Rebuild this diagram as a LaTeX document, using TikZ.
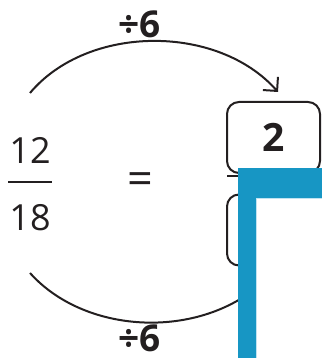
\documentclass[tikz,border=0pt]{standalone}
\usepackage{fontspec}
\setmainfont{Open Sans}
\definecolor{inkgray}{HTML}{231F20}
\definecolor{barblue}{HTML}{1796C4}
\definecolor{edgeblue}{HTML}{BFE3F2}
\usetikzlibrary{arrows.meta}
\tikzset{
	fnum/.style={inner sep=0pt, font=\fontsize{36}{40}\selectfont, text=inkgray},
	abox/.style={draw=inkgray, line width=2pt, rounded corners=12pt,
		minimum width=93pt, minimum height=71pt, inner sep=0pt,
		font=\fontsize{39}{40}\selectfont\bfseries, text=inkgray},
	divlbl/.style={inner sep=0pt, font=\fontsize{37}{38}\selectfont\bfseries, text=inkgray},
	arcarr/.style={line width=2pt, draw=inkgray},
	fbar/.style={line width=2.4pt, draw=inkgray}
}
\begin{document}
\begin{tikzpicture}[x=1pt, y=1pt]
	\useasboundingbox (0,0) rectangle (321,358);
	% left fraction
	\node[fnum] (num) at (30,208) {12};
	\node[fnum] (den) at (30,140) {18};
	\draw[fbar] (8,176) -- (52,176);
	\node[fnum, font=\fontsize{45}{45}\selectfont] (eq) at (140,174) {=};
	% answer boxes
	\node[abox] (topbox) at (273.5,220.5) {2};
	\node[abox] (botbox) at (273.5,128) {};
	\draw[fbar] (227,182) -- (270,182);
	% arcs
	\coordinate (topstart) at (30,265);
	\coordinate (topend) at (278,266);
	\coordinate (botstart) at (30,85);
	\coordinate (botend) at (278,92);
	\draw[arcarr, -{Straight Barb[length=10pt, width=20pt]}]
		(topstart) .. controls (88,334) and (218,334) .. (topend);
	\draw[arcarr, -{Straight Barb[length=10pt, width=20pt]}]
		(botstart) .. controls (90,18) and (218,18) .. (botend);
	\node[divlbl] (toplbl) at (139.5,334) {÷6};
	\node[divlbl] (botlbl) at (139.5,20) {÷6};
	% blue overlay
	\fill[white] (256,-2) rectangle (324,160);
	\fill[barblue] (238,-2) rectangle (256,190);
	\fill[barblue] (238,190) rectangle (324,160);
	\draw[edgeblue, line width=0.8pt] (256.5,-2) -- (256.5,159.5) -- (324,159.5);
\end{tikzpicture}
\end{document}
